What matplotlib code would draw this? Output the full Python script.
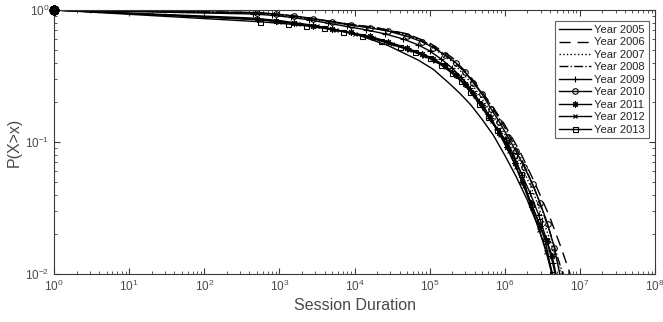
import numpy as np
import matplotlib.pyplot as plt

plt.rcParams['font.family'] = ['Liberation Sans', 'DejaVu Sans']

years = ["Year 2005", "Year 2006", "Year 2007", "Year 2008", "Year 2009",
         "Year 2010", "Year 2011", "Year 2012", "Year 2013"]

# log10(session duration) and log10(P(X>x))
lx_2005 = [0, 2.6, 3.0, 3.5, 4.0, 4.45, 4.85, 5.05, 5.25, 5.4, 5.55, 5.7, 5.85, 6.0, 6.15, 6.3, 6.45, 6.55, 6.66]
lp_2005 = [0, -0.06, -0.08, -0.12, -0.18, -0.27, -0.38, -0.45, -0.55, -0.63, -0.72, -0.83, -0.95, -1.1, -1.26, -1.44, -1.65, -1.82, -2.05]

lx_2006 = [0, 2.7, 3.1, 3.5, 3.9, 4.3, 4.7, 5.0, 5.3, 5.55, 5.8, 6.0, 6.2, 6.4, 6.6, 6.75, 6.9]
lp_2006 = [0, -0.02, -0.04, -0.07, -0.105, -0.135, -0.18, -0.25, -0.36, -0.51, -0.7, -0.87, -1.07, -1.31, -1.57, -1.8, -2.05]

lx_2007 = [0, 2.7, 3.1, 3.5, 3.9, 4.3, 4.7, 5.0, 5.3, 5.55, 5.8, 6.0, 6.2, 6.4, 6.6, 6.78]
lp_2007 = [0, -0.025, -0.045, -0.075, -0.11, -0.14, -0.19, -0.27, -0.39, -0.55, -0.76, -0.94, -1.15, -1.41, -1.74, -2.05]

lx_2008 = [0, 2.7, 3.1, 3.5, 3.9, 4.3, 4.7, 5.0, 5.3, 5.55, 5.8, 6.0, 6.2, 6.4, 6.6, 6.8]
lp_2008 = [0, -0.02, -0.04, -0.07, -0.105, -0.135, -0.185, -0.26, -0.375, -0.52, -0.71, -0.89, -1.10, -1.36, -1.68, -2.05]

lx_2009 = [0, 2.65, 2.9, 3.15, 3.4, 3.65, 3.9, 4.15, 4.4, 4.65, 4.85, 5.0, 5.15, 5.3, 5.42, 5.54, 5.66, 5.78, 5.9, 6.01, 6.12, 6.23, 6.34, 6.45, 6.55, 6.64, 6.69]
lp_2009 = [0, -0.03, -0.04, -0.055, -0.075, -0.1, -0.125, -0.15, -0.18, -0.22, -0.265, -0.31, -0.37, -0.44, -0.51, -0.59, -0.69, -0.79, -0.9, -1.0, -1.12, -1.25, -1.39, -1.55, -1.73, -1.92, -2.05]

lx_2010 = [0, 2.7, 2.95, 3.2, 3.45, 3.7, 3.95, 4.2, 4.45, 4.7, 4.9, 5.05, 5.2, 5.35, 5.47, 5.58, 5.7, 5.82, 5.93, 6.04, 6.15, 6.26, 6.37, 6.47, 6.57, 6.66, 6.75]
lp_2010 = [0, -0.02, -0.03, -0.045, -0.065, -0.09, -0.115, -0.135, -0.16, -0.2, -0.24, -0.285, -0.34, -0.40, -0.47, -0.55, -0.64, -0.75, -0.85, -0.96, -1.07, -1.19, -1.32, -1.46, -1.62, -1.8, -2.05]

lx_2011 = [0, 2.7, 2.95, 3.2, 3.45, 3.7, 3.95, 4.2, 4.45, 4.7, 4.9, 5.05, 5.2, 5.35, 5.47, 5.58, 5.7, 5.81, 5.92, 6.03, 6.13, 6.23, 6.35, 6.47, 6.56, 6.63, 6.7]
lp_2011 = [0, -0.07, -0.085, -0.1, -0.12, -0.145, -0.17, -0.2, -0.24, -0.29, -0.33, -0.37, -0.42, -0.49, -0.56, -0.63, -0.72, -0.82, -0.93, -1.04, -1.16, -1.30, -1.46, -1.64, -1.75, -1.86, -2.05]

lx_2012 = [0, 2.75, 3.0, 3.25, 3.5, 3.75, 4.0, 4.25, 4.5, 4.72, 4.92, 5.07, 5.22, 5.36, 5.48, 5.6, 5.72, 5.83, 5.94, 6.05, 6.15, 6.25, 6.36, 6.46, 6.55, 6.65]
lp_2012 = [0, -0.075, -0.09, -0.105, -0.125, -0.15, -0.18, -0.21, -0.255, -0.3, -0.345, -0.385, -0.435, -0.5, -0.57, -0.65, -0.74, -0.84, -0.95, -1.07, -1.19, -1.33, -1.5, -1.67, -1.83, -2.05]

lx_2013 = [0, 2.74, 3.12, 3.35, 3.6, 3.85, 4.1, 4.35, 4.6, 4.8, 5.0, 5.15, 5.3, 5.42, 5.54, 5.66, 5.78, 5.9, 6.02, 6.12, 6.22, 6.35, 6.45, 6.54, 6.63]
lp_2013 = [0, -0.089, -0.106, -0.12, -0.14, -0.165, -0.195, -0.235, -0.28, -0.32, -0.365, -0.415, -0.48, -0.54, -0.62, -0.71, -0.81, -0.91, -0.985, -1.1, -1.24, -1.47, -1.6, -1.75, -2.0]

curves = [(lx_2005, lp_2005), (lx_2006, lp_2006), (lx_2007, lp_2007),
          (lx_2008, lp_2008), (lx_2009, lp_2009), (lx_2010, lp_2010),
          (lx_2011, lp_2011), (lx_2012, lp_2012), (lx_2013, lp_2013)]

styles = [('-', None, 4), ((0, (8, 5)), None, 4), (':', None, 4), ('-.', None, 4),
          ('-', '+', 5), ('-', 'o', 4), ('-', (8, 2, 0), 4.5), ('-', 'x', 3.5), ('-', 's', 3.6)]

axc = '#3a3a3a'
txc = '#4a4a4a'
fig = plt.figure(figsize=(6.63, 3.22), dpi=100)
ax = fig.add_axes([54 / 663, 1 - 274 / 322, 601 / 663, 264 / 322])

for (lx, lp), (ls, mk, ms), lab in zip(curves, styles, years):
    x = 10 ** np.array(lx)
    y = 10 ** np.array(lp)
    ax.plot(x, y, color='k', ls=ls, lw=1.0, marker=mk, ms=ms, mfc='none',
            mew=0.8, label=lab)
    # first point sits on the corner and is not clipped
    ax.plot(x[:1], y[:1], color='k', ls='none', marker='o',
            ms=6, mfc='k', clip_on=False, zorder=5)

ax.set_xscale('log')
ax.set_yscale('log')
ax.set_xlim(1, 1e8)
ax.set_ylim(1e-2, 1)
ax.set_xticks([10 ** k for k in range(9)])
ax.set_yticks([1e-2, 1e-1, 1])
ax.tick_params(which='both', direction='in', top=True, right=True,
               colors=axc, labelcolor=txc, labelsize=8.5)
ax.tick_params(which='major', length=4)
ax.tick_params(which='minor', length=2)
for s in ax.spines.values():
    s.set_color(axc)
    s.set_linewidth(0.8)

ax.set_xlabel('Session Duration', fontsize=11.5, color=txc, labelpad=3)
ax.set_ylabel('P(X>x)', fontsize=11.5, color=txc, labelpad=2)

leg = ax.legend(loc='upper right', bbox_to_anchor=(0.99, 0.958), fontsize=8,
                frameon=True, fancybox=False, edgecolor=axc, handlelength=2.9,
                labelspacing=0.22, borderpad=0.35, handletextpad=0.3,
                borderaxespad=0)
leg.get_frame().set_linewidth(0.8)
for t in leg.get_texts():
    t.set_color('#222222')

fig.savefig('out.png', dpi=100)
